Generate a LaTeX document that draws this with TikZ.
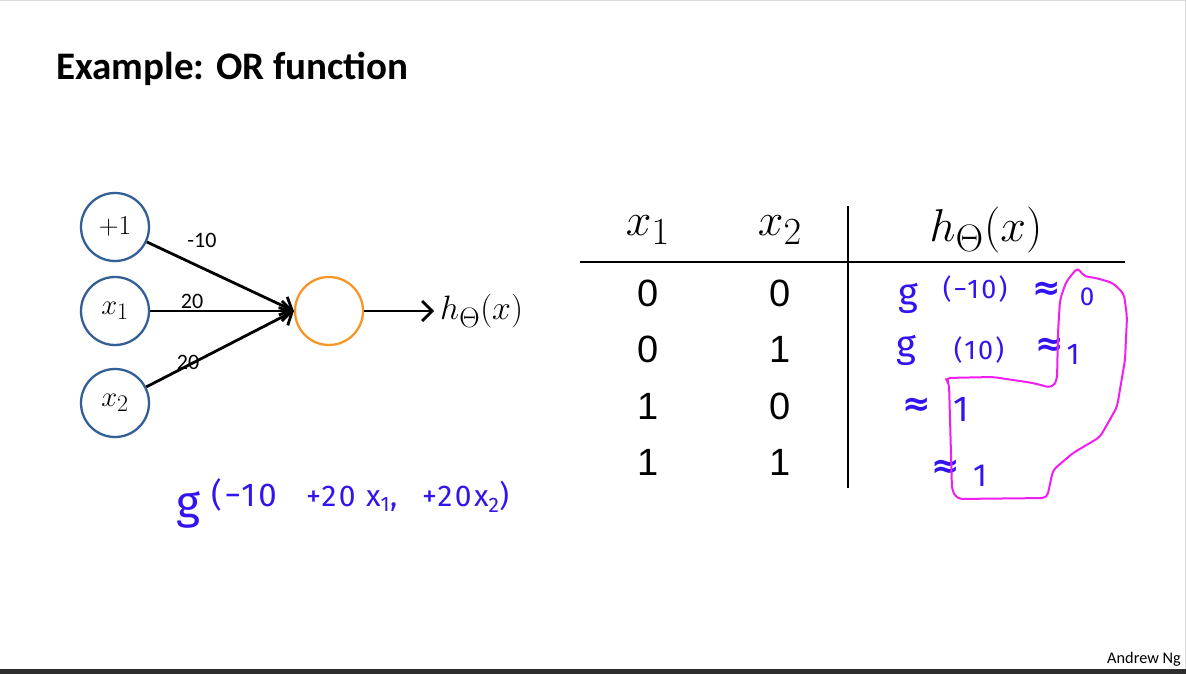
\documentclass[tikz,border=0pt]{standalone}
\usepackage{fontspec}
\setmainfont{Carlito}
\newfontfamily\arialf{Liberation Sans}
\newfontfamily\handf[LetterSpace=8]{Fira Sans}
\newfontfamily\symf{DejaVu Sans}
\usetikzlibrary{arrows.meta}
\definecolor{nodeblue}{RGB}{52,94,150}
\definecolor{nodeorange}{RGB}{247,150,40}
\definecolor{inkblue}{RGB}{50,20,240}
\definecolor{inkpink}{RGB}{240,30,240}
\newcommand{\apx}{{\symf\bfseries\fontsize{34}{36}\selectfont ≈}}
\newcommand{\mscl}[2]{\scalebox{#1}{\fontsize{24.88}{28}\selectfont$#2$}}
\begin{document}
\begin{tikzpicture}[x=1pt,y=-1pt,
  inp/.style={circle, draw=nodeblue, line width=2.3pt, minimum size=68pt, inner sep=0pt},
  hid/.style={circle, draw=nodeorange, line width=2.3pt, minimum size=68pt, inner sep=0pt},
  arr/.style={line width=2.8pt, -{Straight Barb[length=10pt,width=20pt,line width=2.8pt]}},
  wlab/.style={font=\fontsize{22}{24}\selectfont, inner sep=0pt},
  hdr/.style={inner sep=0pt},
  cell/.style={font=\arialf\fontsize{38}{40}\selectfont, inner sep=0pt},
  hw/.style={text=inkblue, font=\handf\fontsize{30}{32}\selectfont, inner sep=0pt},
  hwsm/.style={text=inkblue, font=\handf\fontsize{27}{29}\selectfont, inner sep=0pt},
  hwg/.style={text=inkblue, font=\handf\fontsize{38}{40}\selectfont, inner sep=0pt},
  hwbig/.style={text=inkblue, font=\handf\fontsize{46}{48}\selectfont, inner sep=0pt},
  rule/.style={line width=1.4pt}
]
\useasboundingbox (0,0) rectangle (1186,674);
\fill[white] (0,0) rectangle (1186,674);
\draw[black!15, line width=1.5pt] (0,0.75) -- (1186,0.75);
\draw[black!15, line width=1.5pt] (1185.25,0) -- (1185.25,669);
\fill[black!82] (0,669) rectangle (1186,674);

% title
\node[anchor=west, inner sep=0pt, font=\bfseries\fontsize{39}{42}\selectfont] (title) at (56,69) {Example: OR function};
\node[anchor=east, inner sep=0pt, font=\fontsize{16.3}{18}\selectfont] (author) at (1181,659) {Andrew Ng};

% network
\node[inp] (b) at (115,227) {\mscl{1.1}{+1}};
\node[inp] (x1) at (115,311) {\mscl{1.15}{x_1}};
\node[inp] (x2) at (115,403) {\mscl{1.15}{x_2}};
\node[hid] (h) at (329,311) {};
\node[anchor=west, inner sep=0pt] (out) at (440,311) {\mscl{1.36}{h_\Theta(x)}};
\draw[arr] (b) -- (h.west);
\draw[arr] (x1) -- (h.west);
\draw[arr] (x2) -- (h.west);
\draw[arr, shorten >=6pt] (h) -- (out.west);
\node[wlab] (w0) at (202,240) {-10};
\node[wlab] (w1) at (192,301) {20};
\node[wlab] (w2) at (188,362) {20};

% table
\node[hdr] (hx1) at (648,230) {\mscl{1.85}{x_1}};
\node[hdr] (hx2) at (780,230) {\mscl{1.85}{x_2}};
\node[hdr] (hh) at (986,230) {\mscl{1.85}{h_\Theta(x)}};
\coordinate (hl) at (580,262);
\coordinate (hr) at (1125,262);
\coordinate (vt) at (848,206);
\coordinate (vb) at (848,488);
\draw[rule] (hl) -- (hr);
\draw[rule] (vt) -- (vb);
\node[cell] (a11) at (648,293) {0};
\node[cell] (a12) at (780,293) {0};
\node[cell] (a21) at (648,349) {0};
\node[cell] (a22) at (780,349) {1};
\node[cell] (a31) at (648,406) {1};
\node[cell] (a32) at (780,406) {0};
\node[cell] (a41) at (648,462) {1};
\node[cell] (a42) at (780,462) {1};

% handwritten values
\node[hwg] (g1) at (908,298) {g};
\node[hwsm] (p1) at (975,289) {(−10)};
\node[hw] (e1) at (1047,291) {\apx};
\node[hw, font=\handf\fontsize{26}{28}\selectfont] (v1) at (1087,297) {0};
\node[hwg] (g2) at (906,350) {g};
\node[hwsm] (p2) at (979,350) {(10)};
\node[hw] (e2) at (1050,347) {\apx};
\node[hw] (v2) at (1073,354) {1};
\node[hw] (e3) at (917,407) {\apx};
\node[hw, font=\handf\fontsize{36}{38}\selectfont] (v3) at (961,409) {1};
\node[hw] (e4) at (946,469) {\apx};
\node[hw, font=\handf\fontsize{32}{34}\selectfont] (v4) at (980,476) {1};

% magenta outline
\draw[inkpink, line width=2pt, line join=round, rounded corners=5pt]
  (1066,282) -- (1078,267) -- (1083,276) -- (1096,278) -- (1113,283) -- (1124,294)
  -- (1127,317) -- (1125,360) -- (1117,407) -- (1100,437) -- (1073,453) -- (1053,470)
  -- (1047,498) -- (957,499) -- (952,490) -- (949,383) -- (945,378) -- (993,377)
  -- (1033,383) -- (1052,388) -- (1057,380) -- (1058,333) -- (1060,300) -- cycle;

% handwritten formula
\node[hwbig] (gf) at (188,510) {g};
\node[hw, font=\handf\fontsize{33}{35}\selectfont, anchor=west] (f1) at (211,495) {(−10};
\node[hw, anchor=west] (f2) at (306,499) {+20 x\textsubscript{1},};
\node[hw, anchor=west] (f3) at (422,497) {+20x\textsubscript{2})};
\end{tikzpicture}
\end{document}
